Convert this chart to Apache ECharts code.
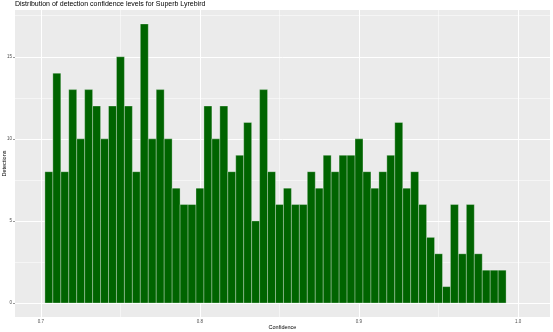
<!DOCTYPE html>
<html>
<head>
<meta charset="utf-8">
<script src="https://cdn.jsdelivr.net/npm/echarts@6/dist/echarts.min.js"></script>
<style>
    html, body { margin: 0; padding: 0; background: #fff; }
    #chart { width: 553px; height: 332px; }
</style>
</head>
<body>
<div id="chart"></div>
<script>
// bin centres (binwidth 0.005)
var binCenters = [
    0.705, 0.710, 0.715, 0.720, 0.725, 0.730, 0.735, 0.740, 0.745, 0.750,
    0.755, 0.760, 0.765, 0.770, 0.775, 0.780, 0.785, 0.790, 0.795, 0.800,
    0.805, 0.810, 0.815, 0.820, 0.825, 0.830, 0.835, 0.840, 0.845, 0.850,
    0.855, 0.860, 0.865, 0.870, 0.875, 0.880, 0.885, 0.890, 0.895, 0.900,
    0.905, 0.910, 0.915, 0.920, 0.925, 0.930, 0.935, 0.940, 0.945, 0.950,
    0.955, 0.960, 0.965, 0.970, 0.975, 0.980, 0.985, 0.990
];
var binWidth = 0.005;
// detections per bin
var counts = [
    8, 14, 8, 13, 10, 13, 12, 10, 12, 15,
    12, 8, 17, 10, 13, 10, 7, 6, 6, 7,
    12, 10, 12, 8, 9, 11, 5, 13, 8, 6,
    7, 6, 6, 8, 7, 9, 8, 9, 9, 10,
    8, 7, 8, 9, 11, 7, 8, 6, 4, 3,
    1, 6, 3, 6, 3, 2, 2, 2
];
var xBreaks = [0.7, 0.8, 0.9, 1.0];
var xMinor = [0.75, 0.85, 0.95];
var yBreaks = [0, 5, 10, 15];
var yMinor = [2.5, 7.5, 12.5, 17.5];

var chart = echarts.init(document.getElementById('chart'));

var histData = [];
for (var i = 0; i < counts.length; i++) {
    histData.push([binCenters[i] - binWidth / 2, binCenters[i] + binWidth / 2, counts[i]]);
}

// gridlines like ggplot theme_grey
var gridLines = [];
yBreaks.forEach(function (v) { gridLines.push({ yAxis: v, lineStyle: { color: '#fff', width: 1, type: 'solid' } }); });
yMinor.forEach(function (v) { gridLines.push({ yAxis: v, lineStyle: { color: '#fff', width: 0.5, type: 'solid' } }); });
xBreaks.forEach(function (v) { gridLines.push({ xAxis: v, lineStyle: { color: '#fff', width: 1, type: 'solid' } }); });
xMinor.forEach(function (v) { gridLines.push({ xAxis: v, lineStyle: { color: '#fff', width: 0.5, type: 'solid' } }); });

var option = {
    animation: false,
    title: {
        text: 'Distribution of detection confidence levels for Superb Lyrebird',
        left: 15,
        top: 1,
        padding: 0,
        textStyle: { fontSize: 7, fontWeight: 'normal', color: '#000', fontFamily: 'Liberation Sans' }
    },
    grid: {
        left: 15, right: 3, top: 10, bottom: 15,
        containLabel: false,
        outerBoundsMode: 'none',
        show: true,
        backgroundColor: '#EBEBEB',
        borderWidth: 0
    },
    xAxis: {
        type: 'value',
        min: 0.6837,
        max: 1.0201,
        name: 'Confidence',
        nameLocation: 'middle',
        nameGap: 7,
        nameMoveOverlap: false,
        nameTextStyle: { fontSize: 5.5, color: '#000', fontFamily: 'Liberation Sans' },
        axisLine: { show: false },
        axisTick: { show: true, length: 2, customValues: xBreaks, lineStyle: { color: '#333', width: 0.5 } },
        axisLabel: {
            customValues: xBreaks,
            fontSize: 4.5,
            margin: 2,
            color: '#4D4D4D',
            fontFamily: 'Liberation Sans',
            formatter: function (v) { return v.toFixed(1); }
        },
        splitLine: { show: false }
    },
    yAxis: {
        type: 'value',
        min: -0.85,
        max: 17.85,
        name: 'Detections',
        nameLocation: 'middle',
        nameGap: 8,
        nameMoveOverlap: false,
        nameRotate: 90,
        nameTextStyle: { fontSize: 5.5, color: '#000', fontFamily: 'Liberation Sans' },
        axisLine: { show: false },
        axisTick: { show: true, length: 2, customValues: yBreaks, lineStyle: { color: '#333', width: 0.5 } },
        axisLabel: {
            customValues: yBreaks,
            fontSize: 4.5,
            margin: 3,
            color: '#4D4D4D',
            fontFamily: 'Liberation Sans'
        },
        splitLine: { show: false }
    },
    series: [
        {
            type: 'line',
            data: [],
            z: 1,
            silent: true,
            markLine: {
                silent: true,
                z: 1,
                symbol: ['none', 'none'],
                label: { show: false },
                emphasis: { disabled: true },
                data: gridLines
            }
        },
        {
            type: 'custom',
            z: 3,
            data: histData,
            encode: { x: [0, 1], y: 2 },
            renderItem: function (params, api) {
                var p0 = api.coord([api.value(0), api.value(2)]);
                var p1 = api.coord([api.value(1), 0]);
                return {
                    type: 'rect',
                    shape: { x: p0[0], y: p0[1], width: p1[0] - p0[0], height: p1[1] - p0[1] },
                    style: { fill: '#006400', stroke: 'rgba(255,255,255,0.6)', lineWidth: 0.5 }
                };
            }
        }
    ]
};
chart.setOption(option);
</script>
</body>
</html>
